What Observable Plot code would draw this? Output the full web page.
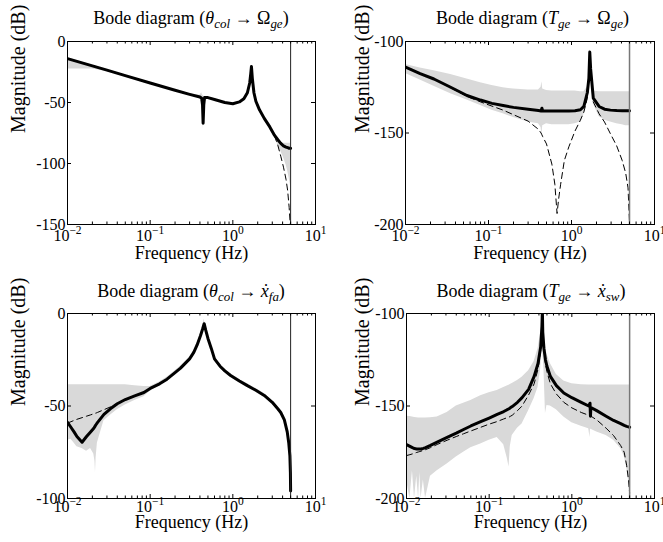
<!DOCTYPE html>
<html><head><meta charset="utf-8">
<script src="https://cdn.jsdelivr.net/npm/d3@7"></script>
<script src="https://cdn.jsdelivr.net/npm/@observablehq/plot@0.6"></script>
<style>
body{margin:0;background:#fff;}
#wrap{position:relative;width:663px;height:542px;overflow:hidden;font-family:"Liberation Serif","Tinos","DejaVu Serif","Noto Serif","Times New Roman",serif;background:#fff;}
.panel{position:absolute;}
.title{position:absolute;text-align:center;font-size:18px;line-height:20px;white-space:nowrap;color:#000;font-family:"Liberation Serif","Tinos","DejaVu Serif","Noto Serif","Times New Roman",serif;}
.title sub{font-size:0.72em;position:relative;top:0.3em;vertical-align:baseline;}
svg{overflow:visible;}
svg text{font-family:"Liberation Serif","Tinos","DejaVu Serif","Noto Serif","Times New Roman",serif !important;}
</style></head>
<body><div id="wrap"></div>
<script>
// ---------- tick labels ----------
const xTickValues = [0.01, 0.1, 1, 10];
const xTickText = ["10^-2", "10^-1", "10^0", "10^1"];
const xLabel = "Frequency (Hz)";
const yLabel = "Magnitude (dB)";
const cutoffFreq = [5];

// ---------- panel 1: theta_col -> Omega_ge ----------
const p1Title = 'Bode diagram (<i>θ</i><sub><i>col</i></sub> → Ω<sub><i>ge</i></sub>)';
const p1YDomain = [-150, 0];
const p1YTicks = [-150, -100, -50, 0];
const p1Freq = [0.01, 0.015, 0.02, 0.03, 0.05, 0.1, 0.2, 0.3, 0.4, 0.42, 0.43, 0.437, 0.445, 0.455, 0.5, 0.6, 0.8, 1.0, 1.2, 1.36, 1.5, 1.6, 1.65, 1.68, 1.72, 1.8, 1.9, 2.1, 2.4, 2.8, 3.2, 3.5, 3.8, 4.1, 4.4, 4.6, 4.8, 4.95, 5.0];
const p1Solid = [-14, -17.5, -20, -23.5, -28, -34, -40, -43.3, -45.5, -46.5, -52, -67, -52, -46, -46, -47.5, -50, -51, -49.5, -47, -42, -34, -26, -20.5, -30, -42, -49, -56, -63, -70, -77, -80.5, -83.5, -85.5, -86.5, -87, -87.5, -87.5, -87.5];
const p1Dashed = [-14, -17.5, -20, -23.5, -28, -34, -40, -43.3, -45.5, -46.5, -52, -67, -52, -46, -46, -47.5, -50, -51, -49.5, -47, -42, -34, -26, -20.5, -30, -42, -49, -56, -63, -70, -77.5, -85, -94, -103, -113, -122, -136, -150, -165];
const p1Lo = [-22.5, -22.5, -22.5, -24.5, -29, -35, -41, -44.5, -46.5, -50, -60, -72, -56, -47, -47, -48.5, -51, -52, -50.5, -48, -43, -35, -27, -22, -31, -43, -50, -57, -64, -71.5, -78.5, -85, -90, -95, -101, -106, -112, -117, -119];
const p1Hi = [-13.5, -16.8, -19.5, -23, -27.5, -33.5, -39.5, -42.8, -44, -42, -44, -44, -45, -45.5, -45.5, -47, -49.5, -50.5, -49, -46.5, -41, -33, -25, -20, -29, -41, -48.5, -55.5, -62.5, -69.5, -76, -79.5, -82.5, -83.5, -83.5, -83.5, -83.5, -83.5, -83.5];

// ---------- panel 2: T_ge -> Omega_ge ----------
const p2Title = 'Bode diagram (<i>T</i><sub><i>ge</i></sub> → Ω<sub><i>ge</i></sub>)';
const p2YDomain = [-200, -100];
const p2YTicks = [-200, -150, -100];
const p2Freq = [0.01, 0.015, 0.022, 0.035, 0.055, 0.08, 0.11, 0.15, 0.2, 0.3, 0.4, 0.43, 0.44, 0.45, 0.5, 0.58, 0.63, 0.67, 0.7, 0.74, 0.82, 0.93, 1.1, 1.28, 1.41, 1.55, 1.62, 1.66, 1.7, 1.83, 2.15, 2.5, 2.95, 3.5, 4.08, 4.5, 4.8, 5.0];
const p2Solid = [-114, -117.5, -120.5, -125, -129.5, -132, -133.8, -135, -136, -137, -137.7, -138, -136.5, -138, -138, -138, -138, -138, -138, -138, -138, -138, -137.8, -137.3, -135.5, -128, -120, -105.8, -115, -131, -135.5, -137, -137.5, -137.7, -137.8, -137.8, -137.8, -137.8];
const p2Dashed = [-114, -117.5, -120.5, -125.3, -130, -133, -135.3, -137.5, -140, -143.5, -148, -150, -151, -152, -156, -167, -178, -194, -186, -178, -165, -157.5, -149, -143, -138.5, -131, -121, -106, -116, -133, -139.5, -144, -150.5, -157, -165, -172, -180, -199];
const p2Lo = [-117.5, -121, -124.5, -128.5, -132, -135, -137.5, -139.5, -141.5, -144, -145, -147, -151, -146, -145, -145.5, -145.5, -145.5, -145.5, -145.5, -145.5, -145.5, -145, -144, -140, -133, -125, -108, -118, -134, -141, -143, -144, -145, -145.5, -146, -146, -146];
const p2Hi = [-112.5, -114.5, -116, -118, -120.5, -122.5, -124, -125.3, -126, -126.5, -126.5, -125, -122, -126, -126.8, -127, -127, -127, -127, -127, -127, -127, -127, -127.5, -127.5, -125, -118, -104, -112, -127, -127.5, -127.5, -127.5, -127.5, -127.5, -127.5, -127.5, -127.5];

// ---------- panel 3: theta_col -> xdot_fa ----------
const p3Title = 'Bode diagram (<i>θ</i><sub><i>col</i></sub> → <i>ẋ</i><sub><i>fa</i></sub>)';
const p3YDomain = [-100, 0];
const p3YTicks = [-100, -50, 0];
const p3Freq = [0.01, 0.011, 0.012, 0.013, 0.015, 0.017, 0.019, 0.0208, 0.0215, 0.0218, 0.0222, 0.023, 0.0276, 0.033, 0.04, 0.05, 0.065, 0.084, 0.1, 0.13, 0.16, 0.2, 0.233, 0.3, 0.337, 0.37, 0.406, 0.43, 0.45, 0.47, 0.5, 0.55, 0.6, 0.7, 0.8, 0.94, 1.2, 1.5, 1.9, 2.4, 3.0, 3.5, 3.8, 4.2, 4.55, 4.75, 4.9, 4.97, 5.0];
const p3Solid = [-58.8, -61.5, -64, -66.5, -69.6, -66.5, -64, -62, -61, -60.5, -60, -59, -54.5, -51.5, -48.8, -46.5, -44.5, -42.7, -40.5, -38, -35.5, -32, -29.5, -24.5, -21, -17, -12, -8.5, -5.5, -9, -13.5, -19, -24.5, -28.5, -31, -33.5, -36.5, -39, -41.5, -44.3, -48, -51.5, -53.5, -57.5, -64, -70, -77, -86, -96];
const p3Dashed = [-59.2, -58.5, -57.8, -57.2, -56.3, -55.5, -54.8, -54.2, -54, -53.9, -53.8, -53.5, -52, -50.5, -49, -46.5, -44.5, -42.7, -40.5, -38, -35.5, -32, -29.5, -24.5, -21, -17, -12, -8.5, -5.5, -9, -13.5, -19, -24.5, -28.5, -31, -33.5, -36.5, -39, -41.5, -44.3, -48, -51.5, -53.5, -57.5, -64, -70, -77, -86, -96];
const p3Lo = [-68.5, -68, -70, -72, -73, -74.5, -73, -76, -80, -86, -78, -70, -58, -55, -52, -49.5, -47, -45, -42, -39, -36.5, -33, -30.5, -25.5, -22, -18, -13, -9.5, -6.5, -10, -14.5, -20, -25.5, -29.5, -32, -34.5, -37.5, -40, -42.5, -45.3, -49, -52.5, -54.5, -58.5, -65, -71, -78, -87, -97];
const p3Hi = [-38.5, -38.5, -38.5, -38.5, -38.5, -38.5, -38.5, -38.5, -38.5, -38.5, -38.5, -38.5, -38.5, -38.5, -38.5, -38.5, -39, -39.5, -39.5, -37, -34.5, -31, -28.5, -23.5, -20, -16, -11, -7.5, -3, -8, -12.5, -18, -23.5, -27.5, -30, -32.5, -35.5, -38, -40.5, -43.3, -47, -50.5, -52.5, -56.5, -63, -69, -76, -85, -95];

// ---------- panel 4: T_ge -> xdot_sw ----------
const p4Title = 'Bode diagram (<i>T</i><sub><i>ge</i></sub> → <i>ẋ</i><sub><i>sw</i></sub>)';
const p4YDomain = [-200, -100];
const p4YTicks = [-200, -150, -100];
const p4Freq = [0.01, 0.011, 0.0118, 0.0125, 0.0133, 0.014, 0.0145, 0.015, 0.016, 0.017, 0.0195, 0.0235, 0.031, 0.04, 0.049, 0.06, 0.079, 0.1, 0.125, 0.15, 0.165, 0.174, 0.18, 0.19, 0.22, 0.25, 0.3, 0.35, 0.39, 0.42, 0.435, 0.44, 0.445, 0.46, 0.48, 0.5, 0.55, 0.65, 0.8, 1.0, 1.3, 1.6, 1.66, 1.68, 1.7, 2.0, 2.6, 3.2, 3.9, 4.3, 4.6, 4.85, 5.0];
const p4Solid = [-170.8, -171.8, -172.5, -173, -173.2, -173.3, -173.3, -173.2, -172.9, -172.5, -171.3, -169.5, -167, -164.7, -162.7, -160.8, -158.5, -156.5, -154.5, -153, -152, -151.5, -151, -150.3, -148, -145.5, -141, -134, -127, -118, -107, -98, -110, -119, -125, -128.5, -134, -139, -143, -145.5, -148, -150, -148.5, -155.5, -150.8, -152.5, -155.5, -157.8, -159.5, -160.5, -161, -161.3, -161.5];
const p4Dashed = [-176.8, -176.3, -175.9, -175.5, -175.1, -174.8, -174.6, -174.4, -174, -173.6, -172.5, -170.8, -168.5, -166.5, -165, -163.5, -161.5, -159.8, -158.4, -157, -156.3, -156, -155.6, -155, -152.5, -150, -144, -138, -130, -120, -108, -99, -111, -121, -127.5, -131.5, -138, -143.5, -148, -151, -153.5, -155, -155.3, -155.4, -155.5, -157.5, -162, -166, -171.4, -175, -182, -190, -197];
const p4Lo = [-190, -200, -185, -200, -188, -200, -186, -200, -190, -200, -188, -185, -181.4, -177.5, -175, -172.5, -170.5, -168.5, -167, -171, -178, -183, -172, -166, -162, -159.7, -152.5, -146, -140, -130, -118, -101, -120, -130, -154, -149.7, -150, -152, -156, -159, -161, -162.3, -167, -162.5, -162.5, -164, -166, -168.5, -173, -177, -183, -190, -197];
const p4Hi = [-155.5, -155.7, -156, -156.2, -156.3, -156.5, -156.5, -156.5, -156.5, -156.5, -156.3, -156, -153.5, -150, -148.5, -147, -144.5, -142.8, -141.6, -140, -139.2, -138.8, -138.4, -137.8, -136.2, -134.5, -131, -126, -119, -110, -102, -99, -104, -112, -118, -122, -127, -133, -136.5, -138, -138.5, -138.7, -138.7, -138.7, -138.7, -138.7, -138.7, -138.7, -138.7, -138.7, -138.7, -138.7, -138.7];

// ---------- layout ----------
const panels = [
  {left: 0, top: 0, width: 331, height: 270, ml: 67, mr: 16, mt: 41, mb: 46, titleY: 18, titleDx: 0, tickDy: 11, labelDy: 29, yLabelDx: -49, rule: "#222", ruleW: 1,
   title: p1Title, freq: p1Freq, solid: p1Solid, dashed: p1Dashed, lo: p1Lo, hi: p1Hi, yDomain: p1YDomain, yTicks: p1YTicks},
  {left: 330, top: 0, width: 333, height: 270, ml: 75, mr: 9, mt: 41, mb: 46, titleY: 18, titleDx: 3, tickDy: 11, labelDy: 29, yLabelDx: -43, rule: "#777", ruleW: 1.5,
   title: p2Title, freq: p2Freq, solid: p2Solid, dashed: p2Dashed, lo: p2Lo, hi: p2Hi, yDomain: p2YDomain, yTicks: p2YTicks},
  {left: 0, top: 270, width: 331, height: 272, ml: 67, mr: 16, mt: 43, mb: 44, titleY: 21, titleDx: 0, tickDy: 8, labelDy: 24, yLabelDx: -49, rule: "#222", ruleW: 1,
   title: p3Title, freq: p3Freq, solid: p3Solid, dashed: p3Dashed, lo: p3Lo, hi: p3Hi, yDomain: p3YDomain, yTicks: p3YTicks},
  {left: 330, top: 270, width: 333, height: 272, ml: 76, mr: 9, mt: 43, mb: 44, titleY: 21, titleDx: 1, tickDy: 8, labelDy: 24, yLabelDx: -44, rule: "#777", ruleW: 1.5,
   title: p4Title, freq: p4Freq, solid: p4Solid, dashed: p4Dashed, lo: p4Lo, hi: p4Hi, yDomain: p4YDomain, yTicks: p4YTicks}
];

const xMinor = d3.range(-2, 1).flatMap(e => d3.range(2, 10).map(m => m * Math.pow(10, e)));
const wrap = document.getElementById("wrap");
const NS = "http://www.w3.org/2000/svg";
const serif = '"Liberation Serif","Tinos","DejaVu Serif","Noto Serif","Times New Roman",serif';

for (const p of panels) {
  const rows = p.freq.map((f, i) => ({f, solid: p.solid[i], dashed: p.dashed[i], lo: p.lo[i], hi: p.hi[i]}));
  const innerH = p.height - p.mt - p.mb;
  const innerW = p.width - p.ml - p.mr;
  const svg = Plot.plot({
    width: p.width, height: p.height,
    marginLeft: p.ml, marginRight: p.mr, marginTop: p.mt, marginBottom: p.mb,
    x: {type: "log", domain: [0.01, 10], axis: null},
    y: {domain: p.yDomain, axis: null},
    style: {fontFamily: serif, fontSize: "16px", background: "transparent", color: "#000", overflow: "visible"},
    marks: [
      Plot.areaY(rows, {x: "f", y1: "lo", y2: "hi", fill: "#d9d9d9", clip: true}),
      Plot.line(rows, {x: "f", y: "dashed", stroke: "#000", strokeWidth: 1, strokeDasharray: "6,4", clip: true}),
      Plot.line(rows, {x: "f", y: "solid", stroke: "#000", strokeWidth: 3, strokeLinejoin: "round", clip: true}),
      Plot.ruleX(cutoffFreq, {x: d => d, stroke: p.rule, strokeWidth: p.ruleW}),
      Plot.frame({stroke: "#000", strokeWidth: 1}),
      Plot.tickX(xTickValues, {x: d => d, insetTop: innerH - 4, stroke: "#000"}),
      Plot.tickX(xTickValues, {x: d => d, insetBottom: innerH - 4, stroke: "#000"}),
      Plot.tickX(xMinor, {x: d => d, insetTop: innerH - 2.5, stroke: "#000"}),
      Plot.tickX(xMinor, {x: d => d, insetBottom: innerH - 2.5, stroke: "#000"}),
      Plot.tickY(p.yTicks, {y: d => d, insetLeft: innerW - 4, stroke: "#000"}),
      Plot.tickY(p.yTicks, {y: d => d, insetRight: innerW - 4, stroke: "#000"}),
      Plot.text(xTickValues, {x: d => d, frameAnchor: "bottom", dy: p.tickDy, lineAnchor: "middle", text: (d, i) => xTickText[i], fontSize: 16, fill: "#000"}),
      Plot.text(p.yTicks, {y: d => d, frameAnchor: "left", dx: -2, textAnchor: "end", lineAnchor: "middle", text: d => String(d), fontSize: 16, fill: "#000"}),
      Plot.text([xLabel], {frameAnchor: "bottom", dy: p.labelDy, lineAnchor: "middle", text: d => d, fontSize: 18, fill: "#000"}),
      Plot.text([yLabel], {frameAnchor: "left", dx: p.yLabelDx, rotate: -90, lineAnchor: "middle", text: d => d, fontSize: 20, fill: "#000"})
    ]
  });
  // superscript exponents on x tick labels
  svg.querySelectorAll("text").forEach(t => {
    const s = t.textContent;
    if (s.indexOf("^") < 0) return;
    const [base, exp] = s.split("^");
    while (t.firstChild) t.removeChild(t.firstChild);
    const a = document.createElementNS(NS, "tspan"); a.textContent = base; t.appendChild(a);
    const b = document.createElementNS(NS, "tspan");
    b.setAttribute("dy", "-0.55em"); b.setAttribute("font-size", "11.5");
    b.textContent = exp.replace("-", "\u2212"); t.appendChild(b);
  });
  const div = document.createElement("div");
  div.className = "panel";
  div.style.left = p.left + "px"; div.style.top = p.top + "px";
  div.style.width = p.width + "px"; div.style.height = p.height + "px";
  div.appendChild(svg);
  wrap.appendChild(div);
  const t = document.createElement("div");
  t.className = "title";
  t.innerHTML = p.title;
  t.style.left = (p.left + p.ml + p.titleDx) + "px";
  t.style.width = innerW + "px";
  t.style.top = (p.top + p.titleY - 10) + "px";
  wrap.appendChild(t);
}
</script>
</body></html>
